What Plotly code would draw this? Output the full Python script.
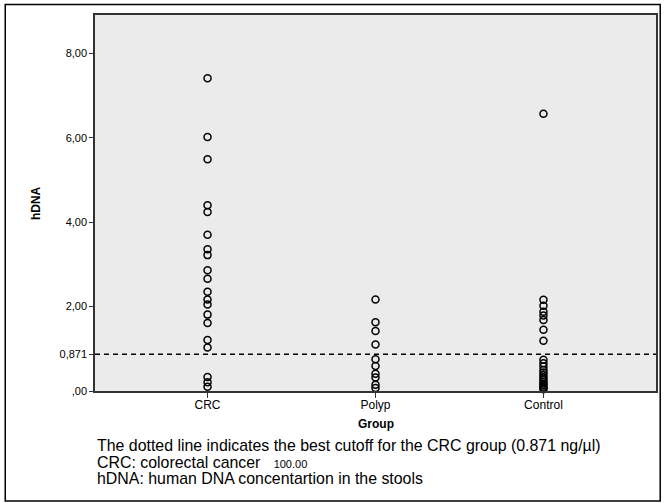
import plotly.graph_objects as go

groups = ["CRC", "Polyp", "Control"]
crc = [7.41, 6.02, 5.49, 4.40, 4.24, 3.70, 3.36, 3.22, 2.86, 2.66, 2.35, 2.17,
       2.05, 1.81, 1.61, 1.21, 1.03, 0.33, 0.21, 0.10]
polyp = [2.17, 1.63, 1.42, 1.10, 0.75, 0.59, 0.41, 0.32, 0.15, 0.07]
control = [6.57, 2.16, 2.02, 1.88, 1.79, 1.68, 1.45, 1.19, 0.74, 0.66, 0.58,
           0.50, 0.44, 0.38, 0.32, 0.27, 0.22, 0.18, 0.14, 0.10, 0.07, 0.04]
cutoff = 0.871
ytick_vals = [0, cutoff, 2, 4, 6, 8]
ytick_text = [",00", "0,871", "2,00", "4,00", "6,00", "8,00"]

FONT = "Liberation Sans, Arial, Helvetica, sans-serif"

fig = go.Figure()
for name, vals in zip(groups, [crc, polyp, control]):
    fig.add_trace(go.Scatter(
        x=[name] * len(vals), y=vals, mode="markers",
        marker=dict(symbol="circle-open", size=7, color="black",
                    line=dict(width=1.5, color="black")),
        cliponaxis=False, showlegend=False, name=name))

fig.add_shape(type="line", xref="paper", x0=0, x1=1, yref="y", y0=cutoff, y1=cutoff,
              line=dict(color="black", width=1.5, dash="5px,4px"))

# outer border
fig.add_shape(type="rect", xref="paper", yref="paper",
              x0=-0.16, x1=1.0075, y0=-0.2926, y1=1.028,
              line=dict(color="black", width=1.5), fillcolor="rgba(0,0,0,0)", layer="below")

fig.update_layout(
    width=665, height=503,
    margin=dict(l=95, r=7, t=15, b=112),
    paper_bgcolor="white", plot_bgcolor="#ebebeb",
    font=dict(family=FONT, color="black", size=11),
    xaxis=dict(type="category", categoryorder="array", categoryarray=groups,
               range=[-0.67, 2.67], showgrid=False, zeroline=False,
               showline=True, mirror=True, linecolor="#333", linewidth=1.5,
               ticks="outside", ticklen=5, tickcolor="#333", tickwidth=1,
               ticklabelstandoff=-3,
               tickfont=dict(size=12, family=FONT)),
    yaxis=dict(range=[0, 8.91], showgrid=False, zeroline=False,
               showline=True, mirror=True, linecolor="#333", linewidth=1.5,
               tickvals=ytick_vals, ticktext=ytick_text,
               ticks="outside", ticklen=4, tickcolor="#333", tickwidth=1,
               tickfont=dict(size=11, family=FONT)),
    annotations=[
        dict(text="<b>Group</b>", xref="paper", yref="paper", x=0.5, y=-0.088,
             showarrow=False, font=dict(size=12, family=FONT), xanchor="center", yanchor="middle"),
        dict(text="<b>hDNA</b>", xref="paper", yref="paper", x=-0.105, y=0.5,
             showarrow=False, textangle=-90, font=dict(size=12, family=FONT),
             xanchor="center", yanchor="middle"),
        dict(text="The dotted line indicates the best cutoff for the CRC group (0.871 ng/µl)",
             xref="paper", yref="paper", x=0, y=-0.146, showarrow=False,
             font=dict(size=15.9, family=FONT), xanchor="left", yanchor="middle"),
        dict(text="CRC: colorectal cancer   <span style='font-size:11px'>100.00</span>",
             xref="paper", yref="paper", x=0, y=-0.191, showarrow=False,
             font=dict(size=15.9, family=FONT), xanchor="left", yanchor="middle"),
        dict(text="hDNA: human DNA concentartion in the stools",
             xref="paper", yref="paper", x=0, y=-0.234, showarrow=False,
             font=dict(size=15.9, family=FONT), xanchor="left", yanchor="middle"),
    ],
)

fig.write_html("out.html")
